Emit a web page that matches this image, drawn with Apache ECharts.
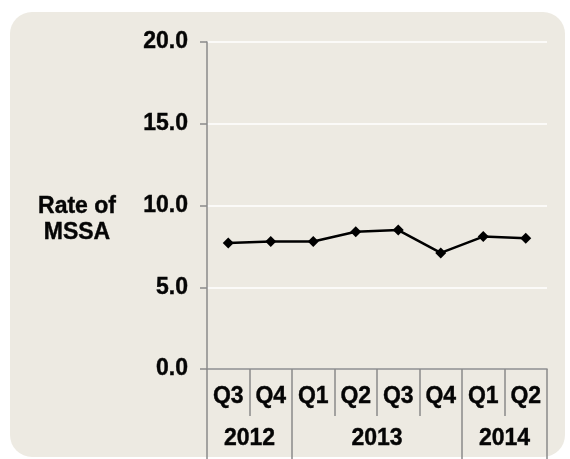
<!DOCTYPE html>
<html>
<head>
<meta charset="utf-8">
<script src="https://cdn.jsdelivr.net/npm/echarts@6/dist/echarts.min.js"></script>
<style>
  html, body { margin: 0; padding: 0; background: #ffffff; }
  #chart { width: 570px; height: 459px; }
</style>
</head>
<body>
<div id="chart"></div>
<script>
// Quarterly MSSA rate, Q3 2012 – Q2 2014
const quarters = ['Q3', 'Q4', 'Q1', 'Q2', 'Q3', 'Q4', 'Q1', 'Q2'];
const years = ['2012', '2013', '2014'];
const yearSpans = [2, 4, 2];           // number of quarters under each year
const mssaRate = [7.7, 7.8, 7.8, 8.4, 8.5, 7.1, 8.1, 8.0];
const yTicks = [0, 5, 10, 15, 20];

// boundaries and centres of the year groups, in quarter units
const yearBounds = [0];
const yearCentres = [];
yearSpans.forEach(function (n) {
  const start = yearBounds[yearBounds.length - 1];
  yearCentres.push(start + n / 2);
  yearBounds.push(start + n);
});

const FONT = "'Liberation Sans', Arial, sans-serif";
const AXIS_GREY = '#8a8a8a';
const INK = '#050505';
const txt = {
  fontFamily: FONT, fontWeight: 'bold', fontSize: 23, color: INK,
  textBorderColor: INK, textBorderWidth: 0.4
};

const chart = echarts.init(document.getElementById('chart'), null, { renderer: 'canvas' });
chart.setOption({
  backgroundColor: '#ffffff',
  animation: false,
  graphic: [{
    type: 'rect',
    z: -10,
    shape: { x: 10, y: 12, width: 555, height: 445, r: 22 },
    style: { fill: '#edeae2' }
  }, {
    type: 'text',
    x: 77,
    y: 220,
    style: {
      text: 'Rate of\nMSSA',
      font: 'bold 23px ' + FONT,
      fill: INK,
      stroke: INK,
      lineWidth: 0.4,
      align: 'center',
      verticalAlign: 'middle',
      lineHeight: 26
    }
  }],
  grid: { left: 207, right: 23, top: 42, bottom: 90, containLabel: false },
  xAxis: [{
    type: 'category',
    data: quarters,
    boundaryGap: true,
    axisLine: { show: true, lineStyle: { color: AXIS_GREY, width: 1.5 } },
    axisTick: { show: true, alignWithLabel: false, length: 47, lineStyle: { color: AXIS_GREY, width: 1.5 } },
    axisLabel: Object.assign({ margin: 16 }, txt),
    splitLine: { show: false }
  }, {
    type: 'value',
    position: 'bottom',
    min: 0,
    max: quarters.length,
    axisLine: { show: false },
    axisTick: {
      show: true,
      length: 90,
      customValues: yearBounds,
      lineStyle: { color: AXIS_GREY, width: 1.5 }
    },
    axisLabel: Object.assign({
      margin: 58,
      customValues: yearCentres,
      formatter: function (v) {
        const i = yearCentres.indexOf(v);
        return i >= 0 ? years[i] : '';
      }
    }, txt),
    splitLine: { show: false }
  }],
  yAxis: {
    type: 'value',
    min: yTicks[0],
    max: yTicks[yTicks.length - 1],
    interval: 5,
    axisLine: { show: true, lineStyle: { color: AXIS_GREY, width: 1.5 } },
    axisTick: { show: true, length: 7, lineStyle: { color: AXIS_GREY, width: 1.5 } },
    axisLabel: Object.assign({
      margin: 19,
      formatter: function (v) { return v.toFixed(1); }
    }, txt),
    splitLine: { show: true, lineStyle: { color: '#ffffff', width: 1.5 } }
  },
  series: [{
    type: 'line',
    xAxisIndex: 0,
    data: mssaRate,
    symbol: 'diamond',
    symbolSize: 11,
    itemStyle: { color: '#000000' },
    lineStyle: { color: '#000000', width: 2.5 },
    z: 5
  }]
});
</script>
</body>
</html>
